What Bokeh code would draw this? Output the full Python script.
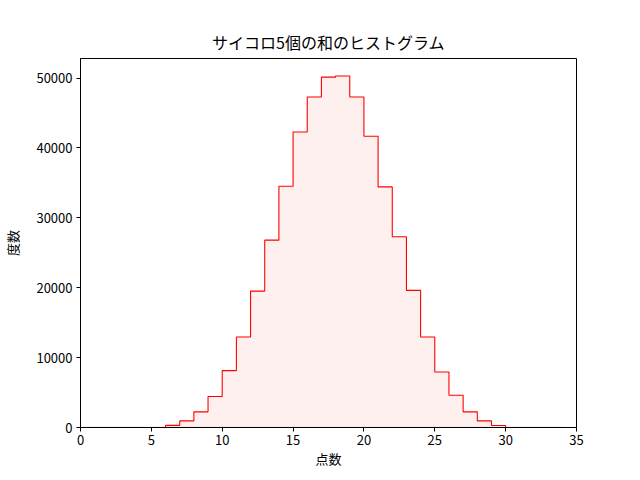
from bokeh.plotting import figure
from bokeh.models import Range1d, FixedTicker
from bokeh.embed import file_html
from bokeh.resources import INLINE

# bin edges (points) and counts (frequency)
edges = list(range(0, 35))
counts = [0, 0, 0, 0, 0, 64, 300, 950, 2240, 4430, 8140, 12950, 19520, 26810,
          34520, 42290, 47290, 50140, 50290, 47290, 41670, 34430, 27290, 19620,
          12950, 7950, 4620, 2240, 950, 290, 64, 0, 0, 0]
x_ticks = [0, 5, 10, 15, 20, 25, 30, 35]
y_ticks = [0, 10000, 20000, 30000, 40000, 50000]
title = "サイコロ5個の和のヒストグラム"
x_label = "点数"
y_label = "度数"

FONT = "Noto Sans CJK JP"

p = figure(frame_width=496, frame_height=369, output_backend="svg",
           toolbar_location=None, title=title,
           x_range=Range1d(0, 35), y_range=Range1d(0, max(counts) * 1.05))
p.min_border_left = 80
p.min_border_right = 60
p.min_border_top = 58
p.min_border_bottom = 50

p.title.align = "center"
p.title.text_font = FONT
p.title.text_font_size = "16px"
p.title.text_font_style = "normal"
p.title.text_color = "black"

p.xgrid.visible = False
p.ygrid.visible = False
p.outline_line_color = "black"
p.outline_line_width = 1
p.outline_line_alpha = 1
p.background_fill_color = "white"
p.border_fill_color = "white"

# filled histogram as one stepped area
p.varea_step(x=edges, y1=[0] * len(edges), y2=counts + [counts[-1]],
             step_mode="after", fill_color="#fff0f0", fill_alpha=1.0)
p.line([edges[0], edges[-1]], [0, 0], line_color="#ffc8c8", line_width=1.5)

# red outline over the non-empty visible bins
xs, ys = [], []
vis = [i for i, c in enumerate(counts) if c > 100]
first, last = vis[0], vis[-1]
xs.append(edges[first]); ys.append(0)
for i in range(first, last + 1):
    xs += [edges[i], edges[i + 1]]
    ys += [counts[i], counts[i]]
xs.append(edges[last + 1]); ys.append(0)
p.line(xs, ys, line_color="red", line_width=1.1)

for ax in (p.xaxis[0], p.yaxis[0]):
    ax.major_tick_out = 4
    ax.major_tick_in = 0
    ax.minor_tick_line_color = None
    ax.axis_line_color = "black"
    ax.major_tick_line_color = "black"
    ax.major_label_text_font = FONT
    ax.major_label_text_font_size = "13px"
    ax.major_label_text_color = "black"
    ax.axis_label_text_font = FONT
    ax.axis_label_text_font_size = "13px"
    ax.axis_label_text_font_style = "normal"
    ax.axis_label_text_color = "black"

p.xaxis[0].ticker = FixedTicker(ticks=x_ticks)
p.yaxis[0].ticker = FixedTicker(ticks=y_ticks)
p.xaxis[0].axis_label = x_label
p.yaxis[0].axis_label = y_label
p.xaxis[0].major_label_standoff = 3
p.yaxis[0].major_label_standoff = 4
p.xaxis[0].axis_label_standoff = 1
p.yaxis[0].axis_label_standoff = 11

open("out.html", "w").write(file_html(p, INLINE))
